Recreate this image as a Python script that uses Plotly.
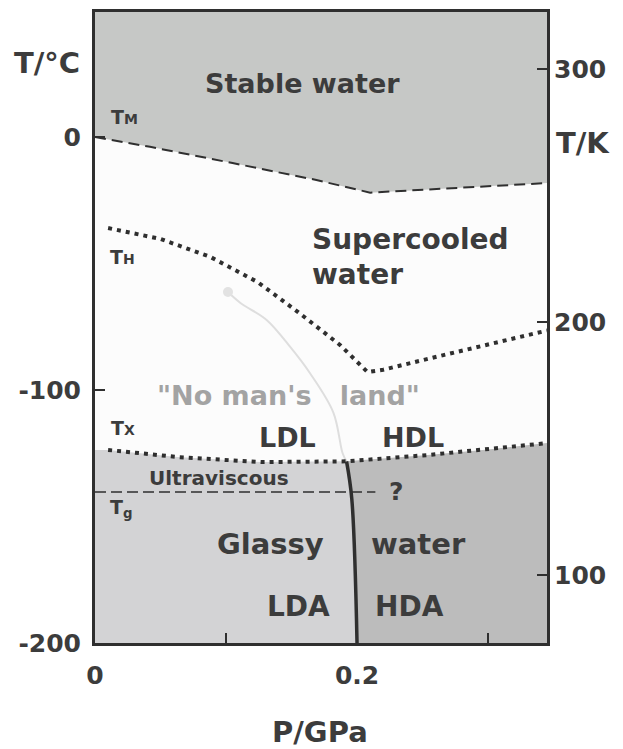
import plotly.graph_objects as go

# Melting line T_M (P in GPa, T in degC)
tm_p = [0.0, 0.042, 0.105, 0.169, 0.21, 0.345]
tm_t = [0.0, -3.9, -10.3, -17.0, -22.0, -18.2]

# Homogeneous nucleation line T_H
th_p = [0.01, 0.05, 0.088, 0.124, 0.155, 0.187, 0.208, 0.22, 0.266, 0.337, 0.345]
th_t = [-36.0, -40.3, -47.4, -57.3, -69.2, -82.2, -92.9, -92.0, -86.2, -77.5, -76.5]

# Crystallisation line T_X
tx_p = [0.01, 0.063, 0.127, 0.192, 0.254, 0.30, 0.345]
tx_t = [-123.7, -126.5, -128.5, -128.2, -125.7, -123.5, -121.0]

# Glass transition T_g
tg_p = [0.0, 0.214]
tg_t = [-140.3, -140.3]

# LDA / HDA boundary (solid) and its faint extension into no man's land
lh_p = [0.192, 0.196, 0.2]
lh_t = [-128.2, -143.0, -200.0]
nml_p = [0.1015, 0.111, 0.131, 0.149, 0.164, 0.182, 0.189, 0.192]
nml_t = [-61.3, -65.6, -72.3, -83.0, -93.3, -109.0, -125.0, -128.2]

x_ticks = [0, 0.2]
x_ticktext = ["0", "0.2"]
x_minor = [0.1, 0.3]
yc_ticks = [0, -100, -200]
yc_ticktext = ["0", "-100", "-200"]
yk_ticks = [100, 200, 300]

X_MAX = 0.345
T_MIN, T_MAX = -200, 49.4
DARK = "#2f2f2f"
TXT = "#3c3c3c"
FONT = "DejaVu Sans"

fig = go.Figure()

# stable water region
fig.add_trace(go.Scatter(
    x=tm_p + [X_MAX, 0], y=tm_t + [T_MAX, T_MAX], fill="toself",
    fillcolor="#c6c8c6", line=dict(width=0), mode="lines", hoverinfo="skip"))

# glassy / ultraviscous low-density side
k = tx_p.index(lh_p[0])
fig.add_trace(go.Scatter(
    x=[0] + tx_p[:k + 1] + lh_p[1:] + [0],
    y=[tx_t[0]] + tx_t[:k + 1] + lh_t[1:] + [T_MIN],
    fill="toself", fillcolor="#d3d3d5", line=dict(width=0), mode="lines",
    hoverinfo="skip"))

# high-density side
fig.add_trace(go.Scatter(
    x=tx_p[k:] + [X_MAX] + lh_p[::-1],
    y=tx_t[k:] + [T_MIN] + lh_t[::-1],
    fill="toself", fillcolor="#bcbcbc", line=dict(width=0), mode="lines",
    hoverinfo="skip"))

# faint no man's land curve
fig.add_trace(go.Scatter(x=nml_p, y=nml_t, mode="lines", line_shape="spline",
                         line=dict(color="#dedede", width=2), hoverinfo="skip"))
fig.add_trace(go.Scatter(x=nml_p[:1], y=nml_t[:1], mode="markers",
                         marker=dict(color="#e2e2e2", size=10), hoverinfo="skip"))

fig.add_trace(go.Scatter(x=tm_p, y=tm_t, mode="lines",
                         line=dict(color=DARK, width=2, dash="11px,6px")))
fig.add_trace(go.Scatter(x=th_p, y=th_t, mode="lines",
                         line=dict(color=DARK, width=4, dash="4px,5px")))
fig.add_trace(go.Scatter(x=tx_p, y=tx_t, mode="lines",
                         line=dict(color=DARK, width=4, dash="4px,5px")))
fig.add_trace(go.Scatter(x=tg_p, y=tg_t, mode="lines",
                         line=dict(color=DARK, width=1.5, dash="11px,5px")))
fig.add_trace(go.Scatter(x=lh_p, y=lh_t, mode="lines", line_shape="spline",
                         line=dict(color=DARK, width=3.5)))


def label(text, x, y, size, color=TXT, xanchor="center"):
    fig.add_annotation(x=x, y=y, text=text, showarrow=False, xanchor=xanchor,
                       yanchor="middle",
                       font=dict(family=FONT, size=size, color=color, weight="bold"))


label("Stable water", 0.158, 21.3, 27)
label("Supercooled", 0.164, -40.7, 28, xanchor="left")
label("water", 0.164, -54.5, 28, xanchor="left")
label('"No man\'s\u00a0\u00a0 land"', 0.148, -102, 27, color="#a3a3a3")
label("LDL", 0.147, -118.6, 27)
label("HDL", 0.243, -118.6, 27)
label("Ultraviscous", 0.095, -134.8, 20)
label("?", 0.230, -140.3, 25)
label("Glassy", 0.134, -160.9, 29)
label("water", 0.247, -160.9, 29)
label("LDA", 0.155, -185.4, 28)
label("HDA", 0.240, -185.4, 28)
label("T<span style='font-size:14px'>M</span>", 0.011, 7.9, 19, xanchor="left")
label("T<span style='font-size:14px'>H</span>", 0.010, -47.4, 19, xanchor="left")
label("T<span style='font-size:14px'>X</span>", 0.011, -115.0, 19, xanchor="left")
label("T<sub>g</sub>", 0.010, -147.0, 19, xanchor="left")

for txt, x, y in [("T/°C", -0.106, 0.919), ("T/K", 1.080, 0.792), ("P/GPa", 0.498, -0.141)]:
    fig.add_annotation(x=x, y=y, xref="paper", yref="paper", text=txt, showarrow=False,
                       xanchor="center", yanchor="middle",
                       font=dict(family=FONT, size=29, color=TXT, weight="bold"))

tickfont = dict(family=FONT, size=25, color=TXT, weight="bold")
fig.update_layout(
    width=623, height=749,
    # page body adds ~8px, so the frame lands at 95..547 x 12..643
    margin=dict(l=87, r=84, t=4, b=114),
    paper_bgcolor="white", plot_bgcolor="#fcfcfc",
    showlegend=False,
    xaxis=dict(range=[0, X_MAX], tickvals=x_ticks, ticktext=x_ticktext,
               ticks="inside", ticklen=10, tickwidth=1.5, tickcolor=DARK,
               minor=dict(tickvals=x_minor, ticks="inside", ticklen=10,
                          tickwidth=1.5, tickcolor=DARK, showgrid=False),
               showline=True, mirror=True, linecolor=DARK, linewidth=3,
               showgrid=False, zeroline=False, ticklabelstandoff=8,
               automargin=False, tickfont=tickfont),
    yaxis=dict(range=[T_MIN, T_MAX], tickvals=yc_ticks, ticktext=yc_ticktext,
               ticks="inside", ticklen=10, tickwidth=1.5, tickcolor=DARK,
               showline=True, mirror=True, linecolor=DARK, linewidth=3,
               showgrid=False, zeroline=False, ticklabelstandoff=6,
               automargin=False, tickfont=tickfont),
    yaxis2=dict(range=[T_MIN + 273.15, T_MAX + 273.15], tickvals=yk_ticks,
                overlaying="y", side="right", anchor="x",
                ticks="inside", ticklen=10, tickwidth=1.5, tickcolor=DARK,
                showline=False, showgrid=False, zeroline=False, ticklabelstandoff=6,
                automargin=False, tickfont=tickfont),
)
# dummy trace to activate the kelvin axis
fig.add_trace(go.Scatter(x=[None], y=[None], yaxis="y2", hoverinfo="skip"))

fig.write_html("out.html")
